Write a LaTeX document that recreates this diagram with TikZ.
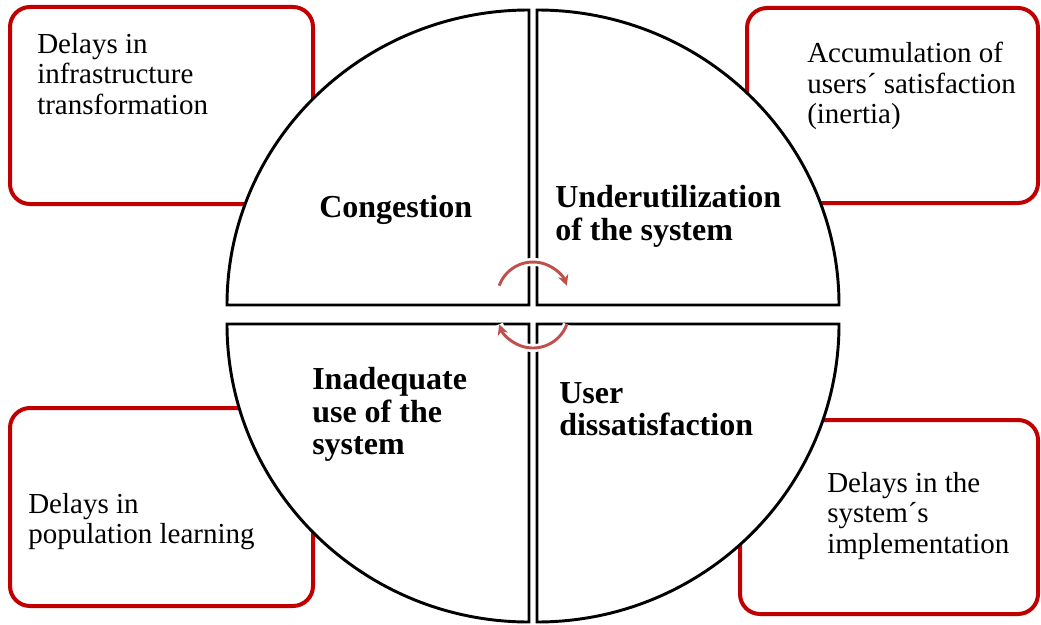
\documentclass[tikz,border=0pt]{standalone}
\usepackage{fontspec}
\setmainfont{Liberation Serif}
\usetikzlibrary{arrows.meta}
\definecolor{boxred}{RGB}{192,0,0}
\definecolor{loopred}{RGB}{192,80,77}

\begin{document}
\begin{tikzpicture}[x=0.75pt,y=0.75pt,yscale=-1,xscale=1,
    delaybox/.style={draw=boxred, line width=3pt, rounded corners=15pt},
    quadrant/.style={draw=black, fill=white, line width=2.2pt, line join=miter},
    boxtext/.style={anchor=north west, inner sep=0pt, align=left, font=\fontsize{21.75pt}{22.9pt}\selectfont},
    keytext/.style={anchor=north west, inner sep=0pt, align=left, font=\fontsize{24pt}{24.4pt}\selectfont\bfseries},
    looparrow/.style={draw=loopred, line width=2.2pt, -{Stealth[length=8pt,width=8pt]}, preaction={draw=white, line width=6pt, -}}]
        \useasboundingbox (0,0) rectangle (1041,624);

        %Rounded Rect [id:delay top left]
        \draw[delaybox] (10,7) rectangle (313,204);
        %Rounded Rect [id:delay top right]
        \draw[delaybox] (747,8) rectangle (1038,203);
        %Rounded Rect [id:delay bottom left]
        \draw[delaybox] (10,408) rectangle (313,606);
        %Rounded Rect [id:delay bottom right]
        \draw[delaybox] (740,420) rectangle (1038,614);

        %Shape: Sector top left
        \draw[quadrant] (529,305) -- (227,305) arc[start angle=180, end angle=270, x radius=302, y radius=295] -- cycle;
        %Shape: Sector top right
        \draw[quadrant] (537,305) -- (537,10) arc[start angle=270, end angle=360, x radius=302, y radius=295] -- cycle;
        %Shape: Sector bottom right
        \draw[quadrant] (537,324) -- (839,324) arc[start angle=0, end angle=90, x radius=302, y radius=298] -- cycle;
        %Shape: Sector bottom left
        \draw[quadrant] (529,324) -- (529,622) arc[start angle=90, end angle=180, x radius=302, y radius=298] -- cycle;

        %Curve Lines [id:loop upper]
        \draw[looparrow] (533,298) ++(200:36) arc[start angle=200, end angle=340, radius=36];
        %Curve Lines [id:loop lower]
        \draw[looparrow] (533,312) ++(20:36) arc[start angle=20, end angle=160, radius=36];

        % Text Node
        \node[boxtext] (infra) at (37,33) {Delays in\\infrastructure\\transformation};
        % Text Node
        \node[boxtext] (inertia) at (807,42) {Accumulation of\\users´ satisfaction\\(inertia)};
        % Text Node
        \node[boxtext] (learning) at (28,493) {Delays in\\population learning};
        % Text Node
        \node[boxtext] (rollout) at (827,472) {Delays in the\\system´s\\implementation};
        % Text Node
        \node[keytext] (congest) at (319,195) {Congestion};
        % Text Node
        \node[keytext] (underuse) at (555,185) {Underutilization\\of the system};
        % Text Node
        \node[keytext] (misuse) at (312,367) {Inadequate\\use of the\\system};
        % Text Node
        \node[keytext] (dissat) at (559,382) {User\\dissatisfaction};

\end{tikzpicture}
\end{document}
